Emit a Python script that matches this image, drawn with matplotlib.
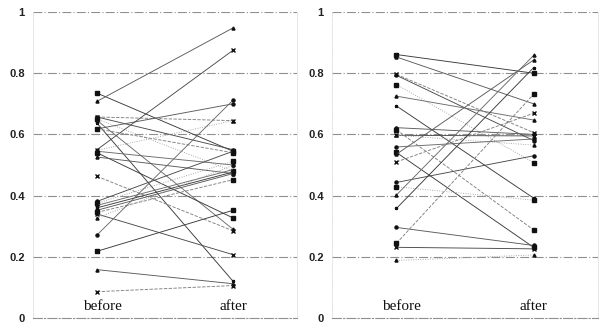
import matplotlib
matplotlib.use("Agg")
import matplotlib.pyplot as plt

categories = ["before", "after"]
yticks = [0, 0.2, 0.4, 0.6, 0.8, 1.0]
ytick_labels = ["0", "0.2", "0.4", "0.6", "0.8", "1"]

left_before = [0.735, 0.708, 0.657, 0.657, 0.650, 0.646, 0.637, 0.618, 0.618, 0.550,
               0.548, 0.545, 0.540, 0.526, 0.463, 0.381, 0.375, 0.368, 0.360, 0.352,
               0.345, 0.340, 0.327, 0.271, 0.218, 0.158, 0.086]
left_after = [0.545, 0.948, 0.645, 0.550, 0.480, 0.290, 0.120, 0.700, 0.540, 0.875,
              0.645, 0.500, 0.327, 0.472, 0.285, 0.545, 0.512, 0.485, 0.477, 0.472,
              0.452, 0.207, 0.499, 0.712, 0.352, 0.112, 0.106]

right_before = [0.861, 0.853, 0.796, 0.793, 0.763, 0.725, 0.693, 0.622, 0.615, 0.597,
                0.597, 0.559, 0.541, 0.535, 0.510, 0.443, 0.429, 0.402, 0.358, 0.296,
                0.244, 0.231, 0.188]
right_after = [0.800, 0.700, 0.606, 0.580, 0.508, 0.647, 0.392, 0.600, 0.288, 0.595,
               0.565, 0.585, 0.231, 0.843, 0.669, 0.530, 0.385, 0.858, 0.818, 0.237,
               0.731, 0.226, 0.206]

markers = ["s", "^", "x", "o", "s", "^", "*", "o", "s", "x", "^", "o"]
line_colors = ["#3a3a3a", "#5a5a5a", "#808080", "#4a4a4a", "#a0a0a0", "#6a6a6a"]
line_styles = ["-", "-", "--", "-", ":", "-"]

fig = plt.figure(figsize=(6.05, 3.27), dpi=100)
axes_rects = [[33/605, 9/327, 264/605, 306/327], [332/605, 9/327, 266/605, 306/327]]
panels = [(left_before, left_after), (right_before, right_after)]

for rect, (bef, aft) in zip(axes_rects, panels):
    ax = fig.add_axes(rect)
    ax.set_xlim(-0.47, 1.47)
    ax.set_ylim(0, 1)
    for i, (b, a) in enumerate(zip(bef, aft)):
        ax.plot([0, 1], [b, a], color=line_colors[i % len(line_colors)],
                linestyle=line_styles[i % len(line_styles)], linewidth=0.65,
                marker=markers[i % len(markers)], markersize=2.2,
                markerfacecolor="#111111", markeredgecolor="#111111", zorder=3)
    for g in yticks[1:]:
        ax.axhline(g, color="#8f8f8f", linestyle=(0, (8, 2, 1, 2)), linewidth=0.8, zorder=1)
    for s in ["left", "right"]:
        ax.spines[s].set_color("#dadada")
        ax.spines[s].set_linestyle(":")
        ax.spines[s].set_linewidth(0.6)
    ax.spines["top"].set_visible(False)
    ax.spines["bottom"].set_color("#8f8f8f")
    ax.spines["bottom"].set_linestyle((0, (8, 2, 1, 2)))
    ax.spines["bottom"].set_linewidth(0.8)
    ax.set_xticks([])
    ax.set_yticks(yticks)
    ax.set_yticklabels(ytick_labels, fontsize=8, fontweight="bold", color="#222222",
                       family="Liberation Sans")
    ax.tick_params(axis="y", length=0, pad=6)
    for xi, lab in enumerate(categories):
        ax.text(xi + (0.04 if xi == 0 else 0.0), 0.036, lab, ha="center", va="center",
                fontsize=11, family="Liberation Serif", color="#111111")

fig.savefig("out.png", dpi=100)
